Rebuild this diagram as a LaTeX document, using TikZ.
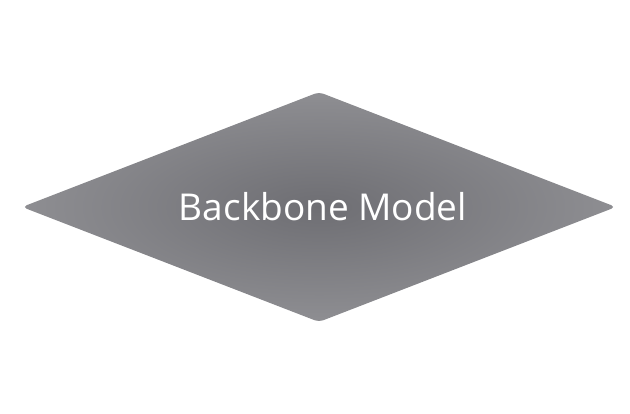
\documentclass[tikz,border=0pt]{standalone}
\usepackage{fontspec}
\setmainfont{Open Sans}
\usetikzlibrary{shapes.geometric}
\definecolor{bbinner}{HTML}{6E6E73}
\definecolor{bbouter}{HTML}{8E8E92}
\tikzset{
  backbone/.style={diamond, rounded corners=5pt, inner sep=0pt,
    minimum width=594pt, minimum height=230pt, aspect=2.58,
    shading=radial, inner color=bbinner, outer color=bbouter,
    text=white, font=\fontsize{37}{44}\selectfont}
}
\begin{document}
\begin{tikzpicture}[x=1pt,y=-1pt]
		% CANVAS
		\useasboundingbox (0,0) rectangle (630,414);
		% BACKBONE DIAMOND
		\node [backbone] (model) at (319,207) {};
		\node [text=white, font=\fontsize{37}{44}\selectfont] (label) at (323,207) {Backbone Model};
\end{tikzpicture}
\end{document}
